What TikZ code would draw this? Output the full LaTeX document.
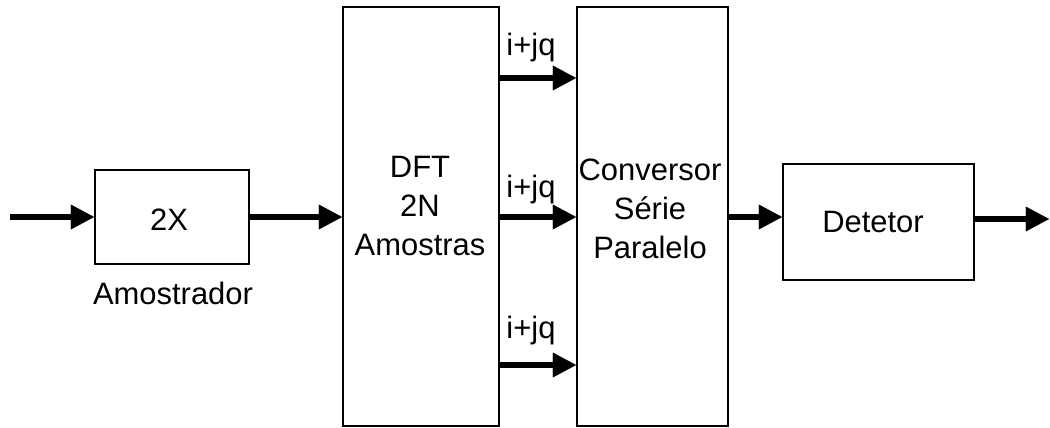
\documentclass[tikz,border=0pt]{standalone}
\usepackage{fontspec}
\setmainfont{Liberation Sans}
\usetikzlibrary{arrows.meta}
\begin{document}
\begin{tikzpicture}[x=0.025cm,y=-0.025cm,
  blk/.style={draw=black,line width=1.3pt,inner sep=0pt,fill=white},
  lbl/.style={inner sep=0pt,font=\fontsize{22pt}{27.7pt}\selectfont,align=center},
  arr/.style={line width=0.17cm,-{Triangle[length=0.58cm,width=0.62cm,line width=0.1pt]}},
  thick line/.style={line width=0.17cm}]
\useasboundingbox (0,0) rectangle (1050,427);
% boxes
\node[blk,minimum width=3.85cm,minimum height=2.35cm] (x2) at (172,217) {};
\node[blk,minimum width=3.9cm,minimum height=10.475cm] (dft) at (421,216.5) {};
\node[blk,minimum width=3.775cm,minimum height=10.475cm] (conv) at (652.5,216.5) {};
\node[blk,minimum width=4.775cm,minimum height=2.9cm] (det) at (878.5,222) {};
% texts
\node[lbl] (x2t) at (169,220) {2X};
\node[lbl] (amost) at (173,293) {Amostrador};
\node[lbl] (dftt) at (420,206) {DFT\\2N\\Amostras};
\node[lbl] (convt) at (650,209) {Conversor\\Série\\Paralelo};
\node[lbl] (dett) at (873,222) {Detetor};
\node[lbl,anchor=base] (l1) at (531,56) {i+jq};
\node[lbl,anchor=base] (l2) at (531,197) {i+jq};
\node[lbl,anchor=base] (l3) at (531,338) {i+jq};
% coordinates
\coordinate (in) at (10,217);
\coordinate (out) at (1049,219);
\coordinate (a1) at (0,78);
\coordinate (a2) at (0,217);
\coordinate (a3) at (0,365);
% connectors
\draw[arr] (in) -- (x2.west |- in);
\draw[arr] (x2.east |- a2) -- (dft.west |- a2);
\draw[arr] (dft.east |- a1) -- (conv.west |- a1);
\draw[arr] (dft.east |- a2) -- (conv.west |- a2);
\draw[arr] (dft.east |- a3) -- (conv.west |- a3);
\draw[arr] (conv.east |- a2) -- (det.west |- a2);
\draw[arr] (det.east |- out) -- (out);
\end{tikzpicture}
\end{document}
